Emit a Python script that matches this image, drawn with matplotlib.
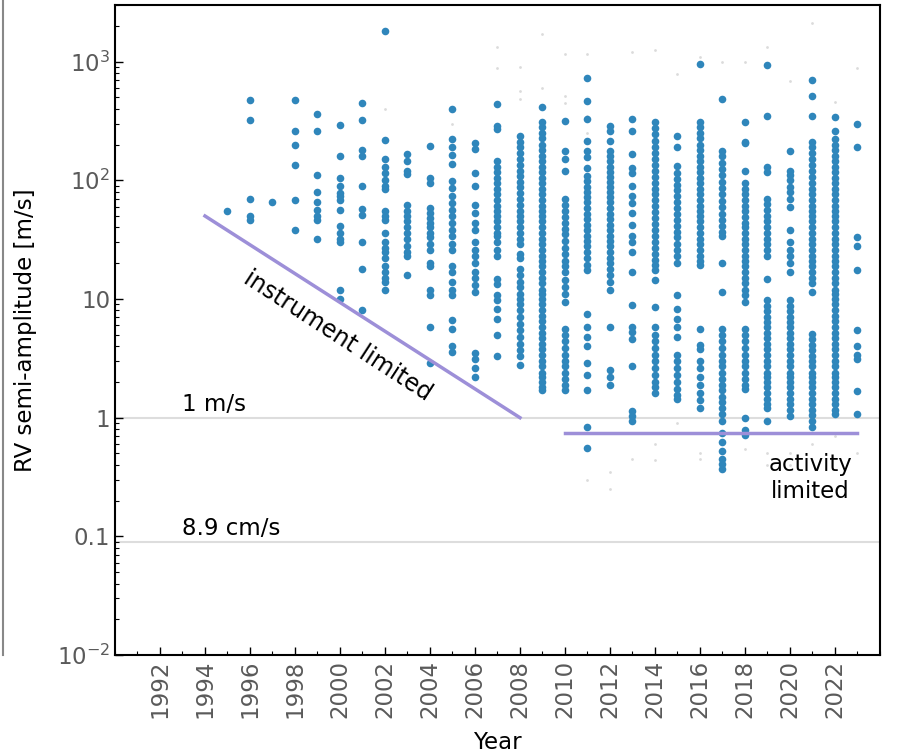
import matplotlib
matplotlib.use("Agg")
import numpy as np
import matplotlib.pyplot as plt
from matplotlib.ticker import FixedLocator, MultipleLocator, NullFormatter
from matplotlib.lines import Line2D

# RV semi-amplitude (m/s) of planets per discovery year
rv_k = {
    1995: [55],
    1996: [470, 320, 70, 50, 46],
    1997: [65],
    1998: [470, 260, 200, 135, 68, 38],
    1999: [360, 260, 110, 80, 66, 56, 50, 46, 32],
    2000: [290, 160, 105, 90, 78, 74, 68, 56, 41, 36, 32, 30, 12, 10],
    2001: [450, 320, 180, 160, 90, 57, 51, 30, 18, 8],
    2002: [1800, 220, 150, 130, 115, 100, 90, 85, 55, 50, 46, 36, 30, 27, 25,
           22, 19, 17, 15, 14, 12],
    2003: [165, 145, 120, 112, 62, 55, 50, 45, 40, 36, 32, 28, 25, 23, 16],
    2004: [195, 104, 94, 58, 53, 48, 44, 40, 36, 33, 29, 26, 20, 19, 12, 10.8,
           5.8, 2.9],
    2005: [400, 224, 190, 162, 138, 98, 86, 73, 64, 56, 50, 44, 38, 34, 29, 26,
           19, 17, 14, 12, 10.8, 6.7, 5.6, 4.0, 3.6],
    2006: [204, 184, 114, 89, 62, 53, 44, 38, 30, 26, 23, 20, 17, 15, 13, 11.5,
           3.5, 3.1, 2.6, 2.2],
    2007: [437, 286, 270, 144, 130, 118, 105, 95, 85, 76, 68, 61, 55, 50, 45,
           40, 36, 34, 30, 26, 23, 14.7, 13.3, 10.8, 9.8, 8.3, 6.8, 5.0, 3.3],
    2008: [235, 210, 190, 170, 150, 135, 120, 108, 97, 87, 78, 70, 62, 55, 50,
           45, 40, 36, 32, 29, 24, 22, 18, 16, 14, 12.5, 11, 10, 9, 8, 7, 6.2,
           5.5, 4.8, 4.2, 3.7, 3.3, 2.8],
    2009: [415, 310, 280, 250, 225, 200, 180, 160, 145, 130, 118, 105, 95, 85,
           76, 68, 61, 55, 50, 45, 40, 36, 32, 29, 26, 23, 21, 19, 17, 15, 13.5,
           12, 11, 10, 9, 8, 7.2, 6.5, 5.8, 5.2, 4.7, 4.2, 3.8, 3.4, 3.0, 2.7,
           2.4, 2.2, 2.0, 1.8, 1.7],
    2010: [316, 178, 152, 119, 70, 62, 55, 49, 44, 39, 35, 31, 27, 24, 21, 19,
           17, 14.5, 12.5, 11, 9.5, 5.6, 5.0, 4.4, 3.9, 3.4, 3.0, 2.7, 2.4, 2.1,
           1.9, 1.7],
    2011: [720, 465, 330, 215, 178, 158, 126, 108, 98, 88, 80, 72, 65, 58, 52,
           47, 42, 38, 34, 31, 28, 25, 22, 19.5, 17.5, 7.5, 5.8, 4.8, 4.0, 2.9,
           2.3, 1.7, 0.83, 0.56],
    2012: [286, 262, 215, 178, 160, 145, 130, 118, 107, 97, 88, 80, 72, 65, 58,
           52, 47, 42, 38, 34, 31, 28, 25, 22, 20, 18, 16, 14, 12, 5.8, 2.5, 2.2,
           1.9],
    2013: [330, 262, 168, 126, 114, 89, 73, 64, 53, 42, 34, 30, 25, 17, 8.9,
           5.8, 5.3, 4.6, 2.7, 1.14, 1.04, 0.94],
    2014: [310, 275, 245, 215, 190, 170, 150, 135, 120, 107, 95, 85, 76, 68,
           61, 54, 48, 43, 38, 34, 30, 27, 24, 21.5, 19.5, 17.5, 14.4, 8.6, 5.8,
           5.0, 4.4, 3.9, 3.4, 3.0, 2.6, 2.3, 2.0, 1.8, 1.6],
    2015: [237, 191, 133, 114, 102, 92, 82, 73, 65, 58, 52, 46, 41, 37, 33, 29,
           26, 23, 20, 10.8, 8.3, 6.8, 5.8, 4.8, 3.4, 3.0, 2.6, 2.3, 2.0, 1.75,
           1.55, 1.44],
    2016: [950, 310, 280, 250, 225, 200, 180, 160, 145, 130, 118, 105, 95, 85,
           76, 68, 61, 55, 50, 45, 40, 36, 32, 29, 26, 23, 21, 19.5, 5.6, 4.1,
           3.8, 3.0, 2.6, 2.2, 1.9, 1.6, 1.4, 1.2],
    2017: [480, 178, 160, 140, 125, 110, 97, 86, 76, 67, 59, 52, 46, 41, 37, 34,
           20, 11.5, 5.6, 5.0, 4.4, 3.9, 3.4, 3.0, 2.7, 2.4, 2.1, 1.9, 1.7, 1.5,
           1.35, 1.2, 1.07, 0.94, 0.74, 0.62, 0.52, 0.45, 0.41, 0.37],
    2018: [310, 210, 204, 119, 94, 85, 76, 68, 61, 55, 49, 44, 40, 36, 32, 29,
           26, 23, 21, 19, 17, 15, 13.5, 12, 10.8, 9.4, 5.6, 5.0, 4.4, 3.9, 3.4,
           3.0, 2.7, 2.4, 2.1, 1.9, 1.75, 1.0, 0.78, 0.72],
    2019: [940, 347, 130, 118, 70, 63, 56, 50, 45, 40, 36, 32, 29, 26, 23, 14.7,
           9.8, 8.8, 7.9, 7.1, 6.4, 5.8, 5.2, 4.7, 4.2, 3.8, 3.4, 3.0, 2.7, 2.4,
           2.2, 2.0, 1.8, 1.6, 1.45, 1.3, 1.2, 0.94],
    2020: [175, 120, 110, 100, 88, 80, 70, 60, 38, 30, 26, 23, 20, 17, 9.8, 8.8,
           7.9, 7.1, 6.4, 5.8, 5.2, 4.7, 4.2, 3.8, 3.4, 3.0, 2.7, 2.4, 2.2, 2.0,
           1.8, 1.6, 1.45, 1.3, 1.17, 1.04],
    2021: [700, 510, 347, 210, 190, 170, 150, 135, 120, 107, 95, 85, 76, 68, 61,
           55, 50, 45, 40, 36, 32, 29, 26, 23, 21, 19, 17, 15, 13.5, 11.5, 5.1,
           4.6, 4.1, 3.7, 3.3, 3.0, 2.7, 2.4, 2.2, 2.0, 1.8, 1.6, 1.45, 1.3,
           1.17, 1.05, 0.94, 0.83],
    2022: [340, 262, 224, 200, 180, 160, 145, 130, 118, 105, 95, 85, 76, 68, 61,
           55, 50, 45, 40, 36, 32, 29, 26, 23, 21, 19, 17, 15, 13.5, 12, 11, 10,
           9, 8, 7.2, 6.5, 5.8, 5.2, 4.7, 4.2, 3.8, 3.4, 3.0, 2.7, 2.4, 2.2, 2.0,
           1.8, 1.6, 1.45, 1.3, 1.17, 1.08],
    2023: [300, 190, 33, 28, 17.5, 5.5, 4.0, 3.4, 3.1, 1.68, 1.08],
}

# faint background population (grey specks)
bg_year = [2002, 2005, 2007, 2007, 2008, 2008, 2008, 2009, 2009, 2010, 2010,
           2010, 2011, 2011, 2011, 2012, 2013, 2013, 2014, 2014, 2015, 2015,
           2016, 2016, 2017, 2017, 2018, 2018, 2019, 2019, 2020, 2020, 2021,
           2021, 2022, 2022, 2023, 2023, 2011, 2012, 2014, 2016, 2019, 2020]
bg_k = [400, 300, 1330, 890, 900, 560, 480, 1700, 600, 1150, 510, 450, 1150,
        350, 0.3, 0.25, 1200, 0.45, 1260, 0.44, 780, 0.9, 1100, 0.5, 1000, 0.9,
        1000, 0.55, 1330, 0.5, 680, 0.4, 2100, 0.6, 460, 0.7, 890, 0.5, 250,
        0.35, 0.6, 0.45, 0.4, 0.5]

one_ms = 1.0
earth_k = 0.089
instr_x = [1994, 2008]
instr_y = [50, 1.0]
activ_x = [2010, 2023]
activ_y = [0.75, 0.75]

fig = plt.figure(figsize=(9.09, 7.53), dpi=100)
ax = fig.add_axes([0.1265, 0.130, 0.8415, 0.8635])

ax.axhline(one_ms, color='#dddddd', lw=1.5, zorder=0)
ax.axhline(earth_k, color='#dddddd', lw=1.5, zorder=0)

ax.scatter(bg_year, bg_k, s=4, color='#999999', alpha=0.35, lw=0, zorder=1)

years = []
ks = []
for yr, vals in rv_k.items():
    years += [yr] * len(vals)
    ks += vals
ax.scatter(years, ks, s=30, color='#2f86bb', lw=0, zorder=2)

ax.plot(instr_x, instr_y, color='#9d8fd8', lw=2.5, zorder=3)
ax.plot(activ_x, activ_y, color='#9d8fd8', lw=2.5, zorder=3)

fs = 16.5
ax.text(1993, 1.04, '1 m/s', fontsize=fs, va='bottom', ha='left')
ax.text(1993, 0.093, '8.9 cm/s', fontsize=fs, va='bottom', ha='left')
ax.text(1999.9, 4.9, 'instrument limited', fontsize=17, rotation=-33,
        rotation_mode='anchor', ha='center', va='center')
ax.text(2020.9, 0.31, 'activity\nlimited', fontsize=fs, ha='center',
        va='center', multialignment='center')

ax.set_yscale('log')
ax.set_ylim(0.01, 3000)
ax.set_xlim(1990, 2024)

ax.yaxis.set_major_locator(FixedLocator([0.01, 0.1, 1, 10, 100, 1000]))
ax.set_yticklabels(['$10^{-2}$', '0.1', '1', '10', '$10^{2}$', '$10^{3}$'])
ax.xaxis.set_major_locator(FixedLocator(np.arange(1992, 2023, 2)))
ax.xaxis.set_minor_locator(MultipleLocator(1))
ax.xaxis.set_minor_formatter(NullFormatter())
ax.set_xticklabels([str(y) for y in range(1992, 2023, 2)], rotation=90)

ax.tick_params(which='both', direction='in', labelsize=fs, labelcolor='#5a5a5a')
ax.tick_params(which='major', length=6, width=1)
ax.tick_params(which='minor', length=3, width=0.8)
for sp in ax.spines.values():
    sp.set_linewidth(1.5)

ax.set_xlabel('Year', fontsize=fs, labelpad=9)
ax.set_ylabel('RV semi-amplitude [m/s]', fontsize=fs, labelpad=14)

fig.add_artist(Line2D([0.003, 0.003], [0.13, 1.0], color='#888888', lw=1.5))

fig.savefig('out.png', dpi=100)
